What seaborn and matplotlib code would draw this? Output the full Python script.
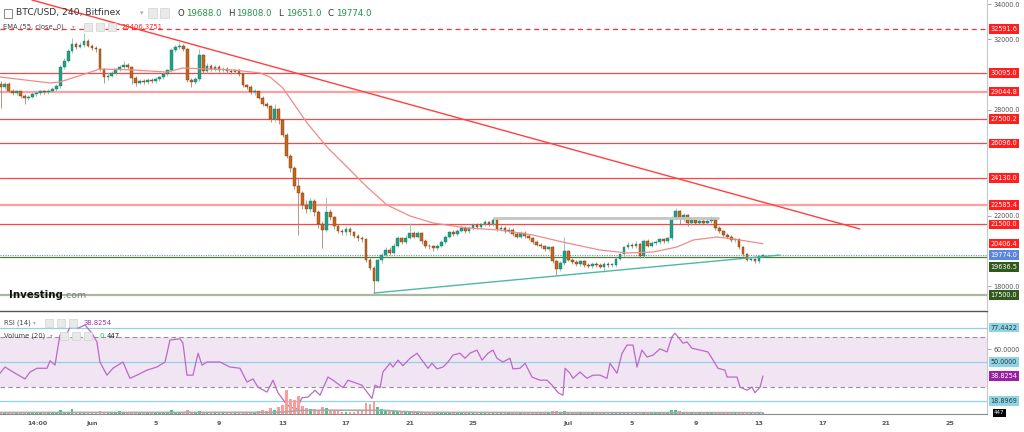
import numpy as np
import pandas as pd
import matplotlib
matplotlib.use("Agg")
import matplotlib.pyplot as plt
import matplotlib.transforms as mtrans
from matplotlib.patches import Rectangle
import seaborn as sns

# ---------------- data (x in days from Jun 1 00:00) ----------------
start_day = -5.75          # time of first 6h candle
step_day = 0.25
first_open = 29500
closes = [
    29300, 29500, 29100, 28950, 29050, 28800, 28650, 28750, 28900, 28950,
    29050, 29000, 29100, 29200, 29350, 30450, 30800, 31350, 31750, 31600,
    31700, 31900, 31650, 31500, 31450, 30300, 29850, 29950, 30100, 30300,
    30450, 30550, 30450, 29800, 29550, 29650, 29600, 29700, 29650, 29750,
    29850, 30050, 30250, 31400, 31550, 31650, 31450, 29700, 29600, 29750,
    31100, 30200, 30500, 30300, 30450, 30250, 30350, 30200, 30150, 30250,
    30050, 29400, 29300, 29000, 29050, 28700, 28350, 28250, 27500, 28050,
    27400, 26600, 25400, 24700, 23700, 23300, 22600, 22350, 22850, 22200,
    21500, 21200, 22200, 21900, 21400, 21150, 21050, 21250, 21050, 20850,
    20700, 20650, 19500, 19050, 18300, 19450, 19750, 20050, 19900, 20300,
    20700, 20500, 20750, 21000, 20800, 21000, 20550, 20300, 20250, 20150,
    20300, 20500, 20800, 21050, 20950, 21150, 21300, 21100, 21300, 21450,
    21350, 21500, 21650, 21500, 21750, 21250, 21300, 21100, 21200, 20950,
    20800, 21000, 20850, 20700, 20500, 20350, 20250, 20100, 20200, 19400,
    18950, 19300, 20000, 19500, 19350, 19250, 19400, 19200, 19150, 19250,
    19200, 19100, 19250, 19200, 19200, 19550, 19800, 20200, 20350, 20250,
    20400, 19700, 20550, 20300, 20450, 20500, 20650, 20550, 20700, 21850,
    22250, 21800, 22050, 21550, 21750, 21600, 21700, 21550, 21700, 21800,
    21300, 21100, 20900, 20800, 20600, 20650, 20200, 19800, 19500, 19550,
    19400, 19688, 19774]
highs = [
    29650, 29600, 29600, 29200, 29150, 29100, 28900, 28850, 29000, 29050,
    29150, 29150, 29200, 29300, 29450, 30550, 30950, 31450, 32100, 31850,
    31850, 32350, 32000, 31750, 31650, 31500, 30400, 30100, 30200, 30400,
    30550, 30750, 30650, 30500, 29900, 29750, 29750, 29800, 29800, 29850,
    29950, 30150, 30350, 31500, 31700, 31850, 31750, 31500, 29800, 29850,
    31450, 31150, 30650, 30600, 30550, 30550, 30450, 30450, 30300, 30350,
    30350, 30100, 29500, 29400, 29200, 29100, 28800, 28450, 28300, 28350,
    28100, 27500, 26700, 25500, 24800, 24200, 23400, 22900, 23000, 22950,
    22300, 21700, 23050, 22400, 22000, 21500, 21250, 21400, 21350, 21150,
    20950, 20850, 20750, 19600, 19150, 19550, 19900, 20200, 20200, 20450,
    20850, 20800, 20900, 21550, 21100, 21150, 21050, 20650, 20400, 20350,
    20400, 20600, 20900, 21150, 21200, 21250, 21450, 21400, 21400, 21550,
    21550, 21600, 21750, 21700, 21860, 21800, 21450, 21400, 21350, 21300,
    21050, 21100, 21100, 20950, 20800, 20600, 20450, 20350, 20300, 20250,
    19500, 19400, 20780, 20050, 19600, 19450, 19500, 19450, 19300, 19350,
    19350, 19300, 19350, 19350, 19300, 19650, 19900, 20300, 20500, 20450,
    20550, 20450, 20650, 20650, 20550, 20600, 20750, 20750, 20800, 21950,
    22450, 22300, 22150, 22100, 21850, 21850, 21800, 21800, 21850, 21950,
    21850, 21400, 21200, 21000, 20900, 20750, 20700, 20250, 19850, 19650,
    19600, 19750, 19808]
lows = [
    28100, 29200, 29000, 28850, 28850, 28700, 28350, 28550, 28650, 28800,
    28850, 28900, 28900, 29000, 29100, 29250, 30350, 30700, 31250, 31450,
    31500, 31600, 31550, 31400, 31300, 30200, 29550, 29700, 29850, 30000,
    30200, 30350, 30350, 29500, 29350, 29450, 29450, 29500, 29550, 29550,
    29650, 29750, 29950, 30150, 31300, 31450, 31350, 29600, 29300, 29500,
    29650, 30100, 30100, 30200, 30200, 30150, 30150, 30100, 30050, 30050,
    29950, 29300, 29200, 28900, 28850, 28600, 28200, 28100, 27300, 27300,
    27200, 26450, 25250, 24500, 23500, 20900, 22400, 22150, 22200, 22000,
    21300, 20150, 21050, 21750, 21250, 21000, 20900, 20900, 20900, 20700,
    20550, 20500, 19350, 18900, 17600, 18200, 19300, 19650, 19750, 19800,
    20200, 20400, 20400, 20650, 20700, 20700, 20400, 20150, 20100, 20000,
    20050, 20200, 20400, 20700, 20850, 20850, 21050, 21000, 21000, 21200,
    21250, 21250, 21400, 21400, 21400, 21150, 21150, 21000, 21000, 20850,
    20700, 20700, 20750, 20600, 20400, 20250, 20150, 20000, 20000, 19300,
    18620, 18850, 19200, 19400, 19250, 19150, 19150, 19100, 19050, 19050,
    19100, 19000, 18800, 19100, 19100, 19100, 19450, 19700, 20100, 20150,
    20150, 19600, 19600, 20200, 20200, 20350, 20400, 20450, 20450, 20600,
    21750, 21500, 21700, 21400, 21450, 21500, 21500, 21450, 21450, 21600,
    21200, 21000, 20800, 20700, 20500, 20500, 20100, 19700, 19400, 19400,
    19300, 19300, 19651]
volumes = [
    600, 500, 400, 450, 350, 400, 500, 350, 300, 350,
    300, 350, 400, 500, 600, 1500, 900, 800, 1800, 700,
    600, 900, 700, 500, 400, 1300, 900, 600, 500, 700,
    1200, 600, 500, 900, 500, 400, 300, 350, 400, 300,
    350, 400, 500, 1400, 800, 700, 600, 1500, 800, 500,
    1300, 900, 600, 500, 400, 450, 400, 350, 300, 400,
    500, 800, 700, 900, 600, 1200, 1500, 1100, 2200, 1400,
    2600, 3500, 9500, 6000, 5500, 7000, 3000, 2500, 1800, 2000,
    1500, 2800, 2200, 1500, 1200, 1000, 900, 800, 700, 900,
    1200, 1300, 4200, 3800, 5000, 2800, 1800, 1500, 1000, 1200,
    1000, 900, 800, 900, 700, 600, 800, 700, 600, 500,
    500, 600, 700, 600, 500, 450, 500, 400, 450, 400,
    400, 450, 500, 400, 600, 700, 500, 450, 400, 500,
    450, 400, 500, 450, 500, 400, 450, 400, 450, 1100,
    1200, 700, 1000, 700, 500, 450, 400, 350, 400, 350,
    350, 400, 450, 350, 300, 500, 600, 700, 500, 400,
    500, 700, 800, 500, 450, 400, 500, 450, 500, 1400,
    1600, 1000, 700, 600, 500, 450, 500, 400, 450, 400,
    700, 600, 500, 450, 500, 400, 600, 800, 700, 500,
    600, 500, 447]
vol_ma_days = [-5.79, 11.5, 12.4, 13.0, 15.0, 18.5, 19.5, 21.0, 30.0, 42.25]
vol_ma_vals = [600, 650, 1000, 1400, 1500, 1450, 1000, 650, 550, 520]

ema_days = [-5.79, -2.64, -2.02, 0.50, 2.58, 4.72, 5.73, 8.88, 10.58, 11.21,
            12.03, 13.54, 14.80, 16.25, 17.32, 18.58, 20.03, 21.47, 23.61, 25.69,
            27.77, 29.91, 31.99, 33.69, 35.33, 36.84, 37.85, 39.36, 40.37, 42.25]
ema_vals = [29870, 29530, 29585, 30320, 30270, 30150, 30380, 30270, 30100, 29870,
            29240, 27260, 25890, 24590, 23620, 22600, 21975, 21580, 21295, 21180,
            20895, 20440, 20045, 19875, 19930, 20215, 20610, 20785, 20670, 20406]

rsi_days = [-5.79, -5.48, -4.97, -4.22, -3.90, -3.46, -2.83, -2.64, -2.33, -2.02,
            -1.57, -1.26, -0.88, -0.44, 0.00, 0.31, 0.50, 0.94, 1.32, 1.95,
            2.39, 2.83, 3.46, 4.09, 4.60, 4.91, 5.54, 5.73, 5.98, 6.36,
            6.68, 6.93, 7.24, 8.06, 8.69, 9.32, 9.76, 10.14, 10.45, 11.02,
            11.40, 11.71, 12.15, 12.47, 12.91, 13.22, 13.60, 14.04, 14.36, 14.86,
            15.18, 15.81, 16.12, 17.00, 17.32, 17.63, 17.82, 18.14, 18.32, 18.77,
            18.95, 19.27, 19.58, 20.03, 20.47, 20.78, 21.16, 21.41, 21.73, 22.10,
            22.42, 22.73, 23.17, 23.49, 23.80, 24.24, 24.56, 24.94, 25.25, 25.50,
            25.88, 26.32, 26.51, 26.95, 27.27, 27.71, 28.21, 28.65, 28.97, 29.35,
            29.66, 29.79, 30.10, 30.29, 30.73, 31.17, 31.55, 31.99, 32.43, 32.62,
            33.06, 33.38, 33.69, 34.07, 34.32, 34.63, 34.95, 35.33, 35.77, 36.21,
            36.52, 36.71, 36.90, 37.22, 37.47, 37.78, 38.29, 38.79, 39.04, 39.42,
            39.86, 39.99, 40.62, 40.81, 41.25, 41.56, 41.75, 42.07, 42.25]
rsi_vals = [41, 46, 42, 36.5, 42, 45, 45, 51, 47.5, 71.5,
            73, 81, 77, 79.5, 73, 66, 50, 39.5, 45, 50,
            37, 39.5, 43.5, 46, 50, 67.5, 68.5, 65, 39.5, 39.5,
            57, 47.5, 50, 50, 46, 45, 34, 36.5, 30, 26,
            35.5, 25.5, 18, 14, 12.5, 21.5, 22, 27.5, 23.5, 38,
            35.5, 29.5, 35.5, 31.5, 26, 21, 31.5, 29.5, 42, 49,
            46, 51.5, 47, 53, 57, 51.5, 45, 49, 44.5, 46,
            50, 55.5, 57, 53, 57, 59.5, 51.5, 57, 59.5, 53,
            50, 53, 44.5, 45, 49, 38, 35.5, 35.5, 31.5, 25.5,
            23.5, 45, 41, 37, 42, 37, 39.5, 39.5, 37, 49,
            41, 57, 63.5, 63.5, 46, 59.5, 54, 55.5, 60.5, 58,
            70, 73, 70, 65, 66, 61, 59.5, 58, 53, 45,
            43.5, 38, 38, 30, 27.5, 30, 25.5, 30, 38.8254]

down_trend_days = [-3.78, 48.36]
down_trend_vals = [34241, 21237]
up_trend_days = [17.76, 43.32]
up_trend_vals = [17602, 19760]
resist_days = [25.31, 39.42]
resist_vals = [21862, 21862]

levels_solid = [30095.0, 27500.2, 26096.0, 24130.0, 21500.0]
levels_light = [29044.8, 22585.4]
level_dashed = 32591.6
ema_last = 20406.4
last_price = 19774.0
support_green = 19636.5
support_low = 17500.0
price_ticks = [34000, 32000, 28000, 22000, 18000]
rsi_levels = [77.4422, 50.0, 18.8969]
rsi_value = 38.8254
date_tick_days = [-3.46, 0, 4, 8, 12, 16, 20, 24, 30, 34, 38, 42, 46, 50, 54]
date_tick_labels = ["14:00", "Jun", "5", "9", "13", "17", "21", "25",
                    "Jul", "5", "9", "13", "17", "21", "25"]

# ---------------- figure ----------------
sns.set_theme(style="white")
plt.rcParams['font.family'] = ['DejaVu Sans']

W, H = 1024, 432
fig = plt.figure(figsize=(W / 100, H / 100), dpi=100)
fig.patch.set_facecolor('white')


def fx(x):
    return x / W


def fy(y):
    return 1 - y / H


ax_p = fig.add_axes([0, fy(309), fx(987), 309 / H])
ax_r = fig.add_axes([0, fy(414), fx(987), (414 - 311) / H])
ax_v = fig.add_axes([0, fy(414), fx(987), (414 - 311) / H], sharex=ax_r)

XL = (-5.793, 56.36)
ax_p.set_xlim(*XL)
ax_p.set_ylim(16694, 34242)
ax_r.set_xlim(*XL)
ax_r.set_ylim(8.53, 90.67)
ax_v.set_ylim(0, 41000)
for a in (ax_p, ax_r):
    a.set_facecolor('white')

# ---- horizontal levels
ax_p.axhline(level_dashed, color='#ff3030', lw=0.9, ls=(0, (4, 3)), zorder=2)
for v in levels_solid:
    ax_p.axhline(v, color='#ff4545', lw=0.9, zorder=2)
for v in levels_light:
    ax_p.axhline(v, color='#ffa0a0', lw=1.6, zorder=2)
ax_p.axhline(last_price, color='#6a8fd8', lw=0.8, ls=(0, (1, 1.2)), zorder=2)
ax_p.axhline(support_green, color='#4f7a34', lw=0.9, zorder=2)
ax_p.axhline(support_low, color='#a9b99c', lw=1.6, zorder=2)

# ---- candles
n = len(closes)
t = start_day + step_day * np.arange(n)
c = np.array(closes, float)
o = np.concatenate([[first_open], c[:-1]])
hi = np.maximum(np.array(highs, float), np.maximum(o, c))
lo = np.minimum(np.array(lows, float), np.minimum(o, c))
up = c >= o
body_bot = np.minimum(o, c)
body_h = np.maximum(np.abs(c - o), 35)
bw = 0.17
ax_p.vlines(t[up], lo[up], hi[up], color='#8dbdb2', lw=0.6, zorder=3)
ax_p.vlines(t[~up], lo[~up], hi[~up], color='#a98670', lw=0.6, zorder=3)
ax_p.bar(t[up], body_h[up], bottom=body_bot[up], width=bw, color='#1fa187',
         edgecolor='#177a66', linewidth=0.3, zorder=4)
ax_p.bar(t[~up], body_h[~up], bottom=body_bot[~up], width=bw, color='#c8661c',
         edgecolor='#6e3a10', linewidth=0.3, zorder=4)

# ---- EMA and trend lines
sns.lineplot(x=ema_days, y=ema_vals, ax=ax_p, color='#f28a8a', lw=0.9,
             estimator=None, sort=False, zorder=5)
sns.lineplot(x=down_trend_days, y=down_trend_vals, ax=ax_p, color='#ff4040',
             lw=1.0, estimator=None, sort=False, zorder=5)
sns.lineplot(x=up_trend_days, y=up_trend_vals, ax=ax_p, color='#4cb9a4',
             lw=1.0, estimator=None, sort=False, zorder=5)
sns.lineplot(x=resist_days, y=resist_vals, ax=ax_p, color='#c4c4c4',
             lw=2.0, estimator=None, sort=False, zorder=5)

# ---- price axis styling
ax_p.set_xlabel('')
ax_p.set_ylabel('')
ax_p.set_xticks([])
ax_p.yaxis.tick_right()
ax_p.set_yticks(price_ticks)
ax_p.set_yticklabels([f"{v:.1f}" for v in price_ticks])
ax_p.tick_params(axis='y', length=3, width=0.6, color='#999999',
                 labelsize=4.7, labelcolor='#555555', pad=1.5)
for s in ('left', 'top', 'bottom'):
    ax_p.spines[s].set_visible(False)
ax_p.spines['right'].set_color('#c8c8c8')
ax_p.spines['right'].set_linewidth(0.8)

# ---- right-side price labels
def right_label(ax, value, text, fc, tc, dy_px=0):
    tr = mtrans.blended_transform_factory(fig.transFigure, ax.transData)
    tr = tr + mtrans.ScaledTranslation(0, -dy_px / 100, fig.dpi_scale_trans)
    fig.text(fx(990.5), value, text, transform=tr, ha='left', va='center',
             fontsize=4.7, color=tc, zorder=10,
             bbox=dict(boxstyle='square,pad=0.28', fc=fc, ec='none'))


right_label(ax_p, level_dashed, f"{level_dashed:.1f}", '#ff1f1f', 'white')
for v in levels_solid + levels_light:
    right_label(ax_p, v, f"{v:.1f}", '#ff1f1f', 'white')
right_label(ax_p, ema_last, f"{ema_last:.1f}", '#ff1f1f', 'white')
right_label(ax_p, last_price, f"{last_price:.1f}", '#5a86dc', 'white')
right_label(ax_p, support_green, f"{support_green:.1f}", '#2f5a1c', 'white', dy_px=10)
right_label(ax_p, support_low, f"{support_low:.1f}", '#2f5a1c', 'white')

# ---- RSI panel
ax_r.axhspan(30, 70, color='#f1e4f3', lw=0, zorder=1)
ax_r.axhline(70, color='#9a8f9a', lw=0.8, ls=(0, (4, 3)), zorder=2)
ax_r.axhline(30, color='#9a8f9a', lw=0.8, ls=(0, (4, 3)), zorder=2)
for v in rsi_levels:
    ax_r.axhline(v, color='#92d3e3', lw=0.9, zorder=2)
sns.lineplot(x=rsi_days, y=rsi_vals, ax=ax_r, color='#b96ac6', lw=0.9,
             estimator=None, sort=False, zorder=4)
ax_r.set_xlabel('')
ax_r.set_ylabel('')
ax_r.yaxis.tick_right()
ax_r.set_yticks([60])
ax_r.set_yticklabels(["60.0000"])
ax_r.tick_params(axis='y', length=3, width=0.6, color='#999999',
                 labelsize=4.7, labelcolor='#555555', pad=1.5)
ax_r.set_xticks(date_tick_days)
ax_r.set_xticklabels(date_tick_labels, fontweight='bold')
ax_r.tick_params(axis='x', length=0, pad=5, labelsize=4.6, labelcolor='#5a5a5a')
ax_r.spines['left'].set_visible(False)
ax_r.spines['top'].set_color('#555555')
ax_r.spines['top'].set_linewidth(1.0)
ax_r.spines['bottom'].set_color('#8a8a8a')
ax_r.spines['bottom'].set_linewidth(0.8)
ax_r.spines['right'].set_color('#c8c8c8')
ax_r.spines['right'].set_linewidth(0.8)

for v in rsi_levels:
    right_label(ax_r, v, f"{v:.4f}", '#8fd4e4', '#2b3a40')
right_label(ax_r, rsi_value, f"{rsi_value:.4f}", '#9a1fa4', 'white')
fig.text(fx(994), fy(413), f"{volumes[-1]}", ha='left', va='center', fontsize=4,
         color='white', zorder=10,
         bbox=dict(boxstyle='square,pad=0.2', fc='black', ec='none'))

# ---- volume
vcol = np.where(up, '#3ccb8e', '#ff9a9a')
ax_v.bar(t, volumes, width=bw, color=vcol, linewidth=0, zorder=2)
sns.lineplot(x=vol_ma_days, y=vol_ma_vals, ax=ax_v, color='#a8a8a8', lw=1.2,
             estimator=None, sort=False, zorder=3)
ax_v.set_xlim(*XL)
ax_v.axis('off')

# ---------------- header texts ----------------
def icon(x, y, s=9):
    fig.patches.append(Rectangle((fx(x), fy(y + s)), s / W, s / H,
                                 transform=fig.transFigure, fc='#e9e9e9',
                                 ec='#d2d2d2', lw=0.5, zorder=9))


# main title
fig.patches.append(Rectangle((fx(3.5), fy(17.5)), 8.5 / W, 8.5 / H,
                             transform=fig.transFigure, fc='white',
                             ec='#777777', lw=0.6, zorder=9))
fig.lines.append(plt.Line2D([fx(5.5), fx(10)], [fy(13.3), fy(13.3)],
                            transform=fig.transFigure, color='#777777', lw=0.6))
fig.text(fx(16), fy(13), "BTC/USD, 240, Bitfinex", fontsize=6.6, color='#333333',
         va='center', ha='left', zorder=10)
fig.text(fx(140), fy(13), "▾", fontsize=5, color='#aaaaaa', va='center', zorder=10)
icon(148, 8.5)
icon(160, 8.5)
ohlc = [("O", 178, "19688.0"), ("H", 228, "19808.0"), ("L", 278, "19651.0"),
        ("C", 328, "19774.0")]
for letter, x0, val in ohlc:
    fig.text(fx(x0), fy(13), letter, fontsize=6.2, color='#333333', va='center', zorder=10)
    fig.text(fx(x0 + 8), fy(13), val, fontsize=6.2, color='#23924a', va='center', zorder=10)

fig.text(fx(3), fy(27), "EMA (55, close, 0)", fontsize=4.9, color='#444444',
         va='center', zorder=10)
fig.text(fx(72), fy(27), "▾", fontsize=4, color='#aaaaaa', va='center', zorder=10)
icon(84, 23, 8)
icon(96, 23, 8)
icon(108, 23, 8)
fig.text(fx(122), fy(27), "20406.3751", fontsize=4.9, color='#ff2020',
         va='center', zorder=10)

# RSI / volume header
fig.text(fx(4), fy(323), "RSI (14)", fontsize=4.9, color='#444444', va='center', zorder=10)
fig.text(fx(33), fy(323), "▾", fontsize=4, color='#aaaaaa', va='center', zorder=10)
icon(45, 319, 8)
icon(57, 319, 8)
icon(69, 319, 8)
fig.text(fx(83), fy(323), "38.8254", fontsize=4.9, color='#a030b0', va='center', zorder=10)
fig.text(fx(4), fy(336), "Volume (20)", fontsize=4.9, color='#444444', va='center', zorder=10)
fig.text(fx(50), fy(336), "▾", fontsize=4, color='#aaaaaa', va='center', zorder=10)
icon(60, 332, 8)
icon(72, 332, 8)
icon(84, 332, 8)
fig.text(fx(99), fy(336), "0", fontsize=4.9, color='#27c06a', va='center', zorder=10)
fig.text(fx(107), fy(336), "447", fontsize=4.9, color='#222222', va='center', zorder=10)

# watermark
fig.text(fx(9), fy(295), "Investing", fontsize=7.4, fontweight='bold', color='#111111',
         va='center', zorder=10)
fig.text(fx(63), fy(296), ".com", fontsize=6.8, color='#7a7a7a', va='center', zorder=10)

fig.savefig("out.png", dpi=100, facecolor='white')
